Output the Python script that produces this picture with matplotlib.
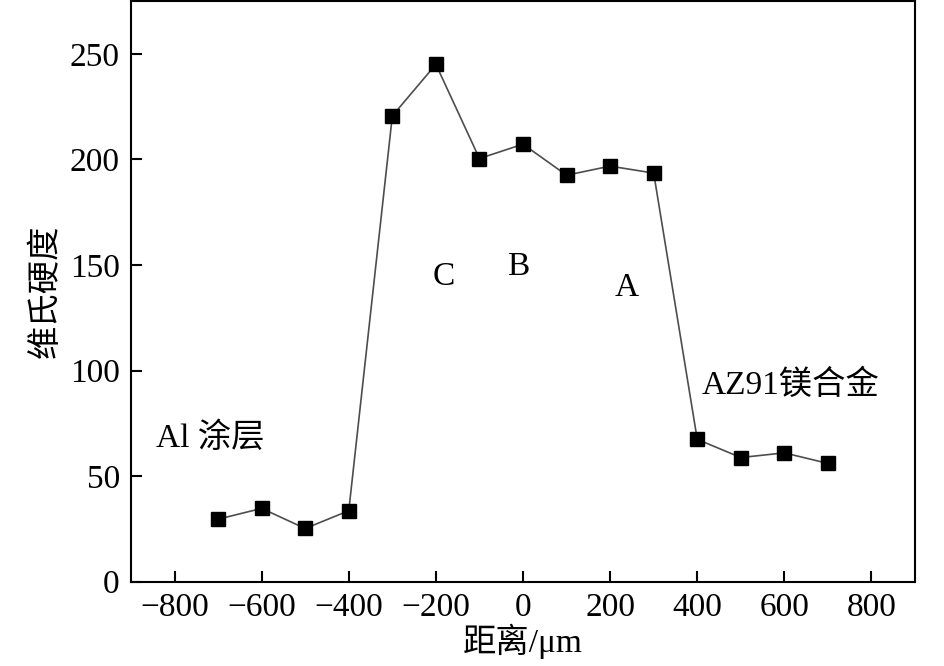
import matplotlib
matplotlib.use('Agg')
import matplotlib.pyplot as plt

plt.rcParams['font.family'] = ['Liberation Serif', 'Noto Sans CJK SC', 'DejaVu Sans']

# 距离 (μm) 与维氏硬度
distance = [-700, -600, -500, -400, -300, -200, -100, 0, 100, 200, 300, 400, 500, 600, 700]
hardness = [29.6, 34.7, 25.2, 33.6, 220.6, 245, 200.4, 207.2, 192.5, 196.8, 193.5, 67.4, 58.8, 61, 56]

x_ticks = [-800, -600, -400, -200, 0, 200, 400, 600, 800]
y_ticks = [0, 50, 100, 150, 200, 250]

# 区域标注
region_labels = ['C', 'B', 'A', 'AZ91镁合金', 'Al 涂层']
region_x = [-183, -11, 238, 410, -842]
region_y = [144.5, 149, 139, 93, 68]

fig = plt.figure(figsize=(9.45, 6.66), dpi=100)
ax = fig.add_axes([0.1386, 0.1266, 0.8297, 0.8719])

ax.plot(distance, hardness, color='#4d4d4d', lw=1.2, marker='s', ms=9.5,
        mfc='black', mec='black')

for lab, lx, ly in zip(region_labels, region_x, region_y):
    ha = 'center' if len(lab) == 1 else 'left'
    ax.text(lx, ly, lab, fontsize=24, ha=ha, va='center')

ax.set_xlim(-900, 900)
ax.set_ylim(0, 275)
ax.set_xticks(x_ticks)
ax.set_yticks(y_ticks)
ax.set_xticklabels([str(t).replace('-', '\u2212') for t in x_ticks])
ax.tick_params(direction='in', length=8, width=1.5, labelsize=24, pad=8,
               top=False, right=False)
for s in ax.spines.values():
    s.set_linewidth(1.5)

ax.set_xlabel('距离/μm', fontsize=24, labelpad=0)
ax.set_ylabel('维氏硬度', fontsize=24, labelpad=6)

fig.savefig('out.png', dpi=100)
